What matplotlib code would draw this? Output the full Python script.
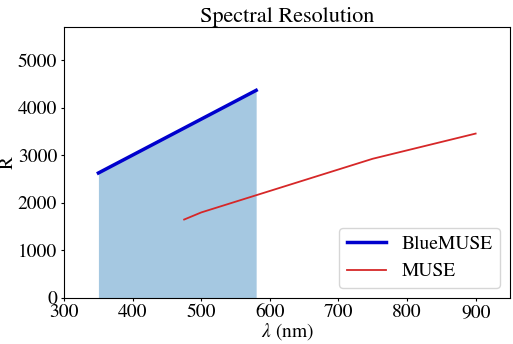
import numpy as np
import matplotlib
matplotlib.use("Agg")
import matplotlib.pyplot as plt

plt.rcParams["font.family"] = "STIXGeneral"
plt.rcParams["mathtext.fontset"] = "stix"

blue_wl = [350, 580]
blue_R = [2630, 4370]
muse_wl = [475, 500, 750, 900]
muse_R = [1650, 1800, 2930, 3460]

fig, ax = plt.subplots(figsize=(5.13, 3.44), dpi=100)
ax.plot(blue_wl, blue_R, color="mediumblue", lw=2.5, label="BlueMUSE")
ax.plot(muse_wl, muse_R, color="tab:red", lw=1.3, label="MUSE")
ax.fill_between(blue_wl, 0, blue_R, color="tab:blue", alpha=0.4, lw=0)
ax.set_xlim(300, 950)
ax.set_ylim(0, 5700)
ax.set_title("Spectral Resolution", fontsize=16, pad=4)
ax.set_xlabel(r"$\lambda$ (nm)", fontsize=14, labelpad=0)
ax.set_ylabel("R", fontsize=14)
ax.yaxis.set_label_coords(-0.106, 0.5)
ax.tick_params(labelsize=14, length=2.5, pad=1.5)
ax.tick_params(axis="y", pad=2.5)
ax.legend(loc="lower right", fontsize=14)
fig.subplots_adjust(left=0.125, right=0.994, top=0.921, bottom=0.134)
plt.savefig("out.png")
